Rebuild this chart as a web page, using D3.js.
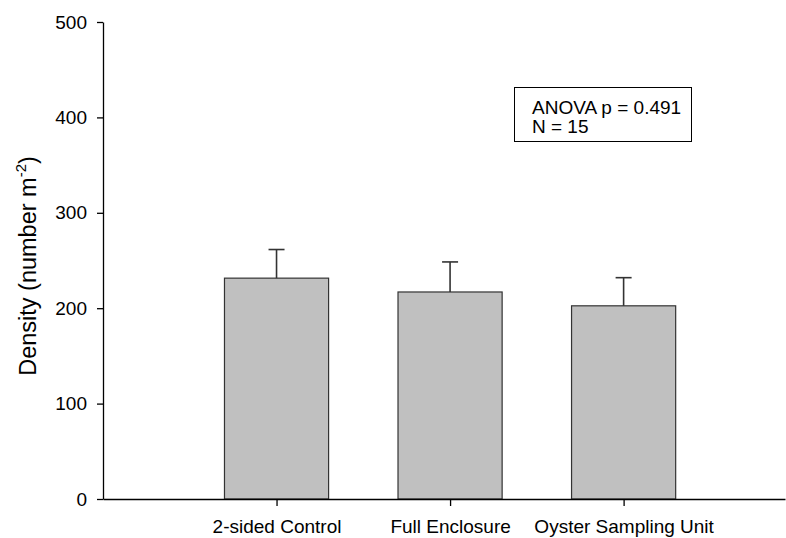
<!DOCTYPE html>
<html>
<head>
<meta charset="utf-8">
<script src="https://cdn.jsdelivr.net/npm/d3@7"></script>
<style>
  html, body { margin: 0; padding: 0; background: #fff; }
  svg { display: block; }
  text { font-family: Arial, "Liberation Sans", sans-serif; fill: #000; }
</style>
</head>
<body>
<svg id="chart" width="786" height="538"></svg>
<script>
// Treatment groups, mean densities and standard errors (number per m²)
const categories = ["2-sided Control", "Full Enclosure", "Oyster Sampling Unit"];
const means = [231.5, 217, 202.5];
const errors = [30, 31.5, 29.5];
const yTicks = [0, 100, 200, 300, 400, 500];
const statsLines = ["ANOVA p = 0.491", "N = 15"];

const svg = d3.select("#chart");

// Categories sit at positions 1, 2, 3 on a continuous x axis
const x = d3.scaleLinear().domain([0, 3.93]).range([103, 785]);
const y = d3.scaleLinear().domain([0, 500]).range([499, 22]);
const barHalf = 0.3;

// Bars
svg.append("g").selectAll("rect")
  .data(means)
  .join("rect")
  .attr("x", (d, i) => x(i + 1 - barHalf))
  .attr("y", d => y(d))
  .attr("width", x(barHalf * 2) - x(0))
  .attr("height", d => y(0) - y(d))
  .attr("fill", "#c0c0c0")
  .attr("stroke", "#333")
  .attr("stroke-width", 1.2);

// Upper error bars
const eb = svg.append("g").attr("stroke", "#333").attr("stroke-width", 1.6);
means.forEach((m, i) => {
  const cx = x(i + 1);
  eb.append("line").attr("x1", cx).attr("x2", cx).attr("y1", y(m)).attr("y2", y(m + errors[i]));
  eb.append("line").attr("x1", cx - 8).attr("x2", cx + 8).attr("y1", y(m + errors[i])).attr("y2", y(m + errors[i]));
});

// Y axis
const yAxis = svg.append("g")
  .attr("transform", `translate(${x(0)},0)`)
  .call(d3.axisLeft(y).tickValues(yTicks).tickSize(6).tickPadding(10).tickSizeOuter(0));
yAxis.select(".domain").attr("stroke", "#000").attr("stroke-width", 1.3);
yAxis.selectAll(".tick line").attr("stroke", "#000").attr("stroke-width", 1.3);
yAxis.selectAll("text").attr("font-size", 19).attr("font-family", "Arial, 'Liberation Sans', sans-serif").attr("fill", "#000");

// X axis
const xAxis = svg.append("g")
  .attr("transform", `translate(0,${y(0)})`)
  .call(d3.axisBottom(x).tickValues([1, 2, 3]).tickFormat((d, i) => categories[i]).tickSize(7).tickPadding(14).tickSizeOuter(0));
xAxis.select(".domain").attr("stroke", "#000").attr("stroke-width", 1.3);
xAxis.selectAll(".tick line").attr("stroke", "#000").attr("stroke-width", 1.3);
xAxis.selectAll("text").attr("font-size", 19).attr("font-family", "Arial, 'Liberation Sans', sans-serif").attr("fill", "#000");

// Y axis title with superscript
const yl = svg.append("text")
  .attr("transform", "translate(36,266) rotate(-90)")
  .attr("text-anchor", "middle")
  .attr("font-size", 23.5);
yl.append("tspan").text("Density (number m");
yl.append("tspan").attr("font-size", 15).attr("dy", -10).text("-2");
yl.append("tspan").attr("dy", 10).text(")");

// Statistics box
const box = svg.append("g");
box.append("rect")
  .attr("x", 514.5).attr("y", 87.5).attr("width", 177).attr("height", 54)
  .attr("fill", "#fff").attr("stroke", "#000").attr("stroke-width", 1);
box.selectAll("text")
  .data(statsLines)
  .join("text")
  .attr("x", 532)
  .attr("y", (d, i) => 114 + i * 19)
  .attr("font-size", 19)
  .text(d => d);
</script>
</body>
</html>
